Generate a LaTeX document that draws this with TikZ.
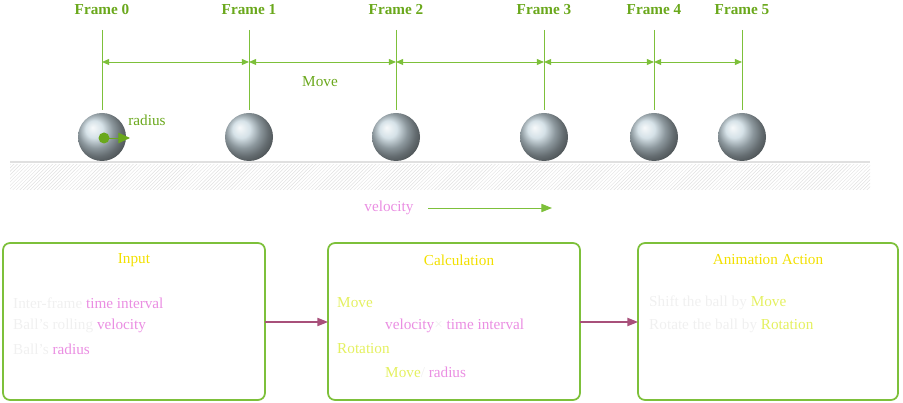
\documentclass[tikz,border=0pt]{standalone}
\usepackage{fontspec}
\setmainfont{Liberation Serif}
\usetikzlibrary{arrows.meta,patterns}
\definecolor{gl}{HTML}{7DC03A}
\definecolor{gt}{HTML}{6AA81C}
\definecolor{ye}{HTML}{F2E000}
\definecolor{pk}{HTML}{EA8EE2}
\definecolor{ly}{HTML}{E4F060}
\definecolor{wt}{HTML}{F0F0F0}
\definecolor{mr}{HTML}{A8507A}
\definecolor{bc}{HTML}{C8D8E0}
\begin{document}
\begin{tikzpicture}[x=0.03cm,y=-0.03cm,
  lbl/.style={text=gt,font=\fontsize{13}{15}\selectfont\bfseries},
  vline/.style={draw=gl,line width=0.8pt},
  dim/.style={draw=gl,line width=0.8pt,{Triangle[length=6pt,width=5pt]}-{Triangle[length=6pt,width=5pt]}},
  box/.style={draw=gl,line width=1.5pt,rounded corners=6pt},
  ttl/.style={text=ye,font=\fontsize{13}{15}\selectfont},
  tx/.style={anchor=west,font=\fontsize{13}{15}\selectfont,inner sep=0pt},
  link/.style={draw=mr,line width=1pt,-{Triangle[length=9pt,width=7pt]}},
  ball/.style={circle,minimum size=1.44cm,inner sep=0pt,ball color=bc,draw=none}]
\useasboundingbox (0,0) rectangle (903,403);
% ground
\fill[pattern=north east lines,pattern color=black!12] (10,165) rectangle (870,190);
\draw[black!12,line width=1.5pt] (10,162) -- (870,162);
% frames
\foreach \i/\x in {0/102,1/249,2/396,3/544,4/654,5/742}{
  \node[lbl] (f\i) at (\x,10) {Frame \i};
  \coordinate (t\i) at (\x,30);
  \coordinate (b\i) at (\x,110);
  \draw[vline] (t\i) -- (b\i);
  \coordinate (m\i) at (\x,62);
  \node[ball] (ball\i) at (\x,137) {};
}
\foreach \a/\b in {0/1,1/2,2/3,3/4,4/5}{\draw[dim] (m\a) -- (m\b);}
\node[lbl,font=\fontsize{13}{15}\selectfont] (mv) at (320,82) {Move};
% radius
\coordinate (rc) at (104,138);
\coordinate (re) at (130,138);
\fill[gt] (rc) circle (5.5);
\draw[gt,line width=0.8pt,-{Triangle[length=10pt,width=9pt]}] (rc) -- (re);
\node[lbl,font=\fontsize{13}{15}\selectfont] (rad) at (147,120) {radius};
% velocity
\node[lbl,text=pk,font=\fontsize{13}{15}\selectfont] (vel) at (389,208) {velocity};
\coordinate (va) at (428,208);
\coordinate (vb) at (552,208);
\draw[gl,line width=0.8pt,-{Triangle[length=9pt,width=7pt]}] (va) -- (vb);
% boxes
\draw[box] (3,243) rectangle (265,400);
\draw[box] (328,243) rectangle (580,400);
\draw[box] (638,243) rectangle (898,400);
\coordinate (i1) at (265,322); \coordinate (c0) at (328,322);
\coordinate (c1) at (580,322); \coordinate (a0) at (638,322);
\draw[link] (i1) -- (c0);
\draw[link] (c1) -- (a0);
\node[ttl] (ti) at (134,260) {Input};
\node[ttl] (tc) at (459,260) {Calculation};
\node[ttl] (ta) at (768,260) {Animation Action};
\node[tx] (l1) at (13,303) {\color{wt}Inter-frame \color{pk}time interval};
\node[tx] (l2) at (13,326) {\color{wt}Ball's rolling \color{pk}velocity};
\node[tx] (l3) at (13,349) {\color{wt}Ball's \color{pk}radius};
\node[tx,text=ly] (c1t) at (337,303) {Move};
\node[tx] (c2t) at (385,326) {\color{pk}velocity\color{wt}× \color{pk}time interval};
\node[tx,text=ly] (c3t) at (337,349) {Rotation};
\node[tx] (c4t) at (385,372) {\color{ly}Move\color{wt}/ \color{pk}radius};
\node[tx] (a1t) at (649,303) {\color{wt}Shift the ball by \color{ly}Move};
\node[tx] (a2t) at (649,326) {\color{wt}Rotate the ball by \color{ly}Rotation};
\end{tikzpicture}
\end{document}
